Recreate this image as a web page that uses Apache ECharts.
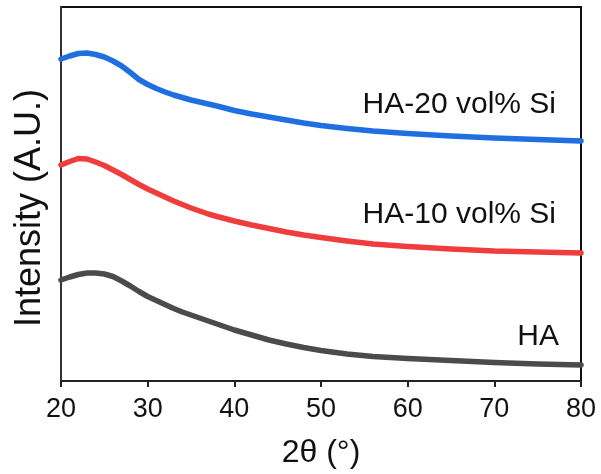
<!DOCTYPE html>
<html>
<head>
<meta charset="utf-8">
<script src="https://cdn.jsdelivr.net/npm/echarts@6/dist/echarts.min.js"></script>
<style>html,body{margin:0;padding:0;background:#fff}#c{width:601px;height:474px}</style>
</head>
<body>
<div id="c"></div>
<script>
// 2θ positions (degrees)
var twoTheta = [20,21,22,23,24,25,26,27,28,29,30,31,32,33,34,35,36,37,38,40,42,44,46,48,50,53,56,60,65,70,75,80];
// Intensities (arbitrary units, stacked offsets included)
var ha20 = [322,325,327.5,328,326.5,324,320,315,308.5,301.5,296.5,292.5,289,286,283.5,281,279,277,275,270.5,267,264,261,258,255.5,252.5,250,247.5,245,243,241.5,240];
var ha10 = [216,219.5,222.5,222,219,215.5,211,206.5,201.5,196.5,192,188,184,180,176.5,173,170,167,164.5,160,156,152.5,149,146,143.5,140,137,134.5,132,130,129,128];
var ha   = [101,104,106.5,108,108,107,104.5,100,95,89.5,84.5,80.5,76.5,72.5,69,66,63,60,57,51,46,41,37,33.5,30.5,27,24.5,22.5,20.5,18.5,17,16];
var seriesNames = ['HA-20 vol% Si','HA-10 vol% Si','HA'];
var xTicks = [20,30,40,50,60,70,80];

function pairs(ys){ return twoTheta.map(function(x,i){ return [x, ys[i]]; }); }

var chart = echarts.init(document.getElementById('c'));
var font = 'Liberation Sans, Arial, sans-serif';
chart.setOption({
  animation: false,
  backgroundColor: '#fff',
  grid: { left: 61, right: 20, top: 7, bottom: 93, show: true, borderColor: '#111', borderWidth: 2, backgroundColor: 'transparent' },
  xAxis: {
    type: 'value', min: 20, max: 80, interval: 10,
    axisLine: { show: true, lineStyle: { color: '#222', width: 2 } },
    axisTick: { show: true, inside: false, length: 6, lineStyle: { color: '#222', width: 2 } },
    axisLabel: { margin: 15, fontSize: 27, color: '#111', fontFamily: font,
      formatter: function(v){ return xTicks.indexOf(v) >= 0 ? String(v) : ''; } },
    splitLine: { show: false },
    name: '2θ (°)', nameLocation: 'middle', nameGap: 56,
    nameTextStyle: { fontSize: 32, color: '#111', fontFamily: font }
  },
  yAxis: {
    type: 'value', min: 0, max: 374,
    axisLine: { show: true, lineStyle: { color: '#333', width: 2 } },
    axisTick: { show: false }, axisLabel: { show: false }, splitLine: { show: false }
  },
  graphic: [
    { type: 'text', x: 30, y: 208, rotation: Math.PI/2,
      style: { text: 'Intensity (A.U.)', fontSize: 36, fontFamily: font, fill: '#111', align: 'center', verticalAlign: 'middle' } },
    { type: 'text', x: 556, y: 105,
      style: { text: seriesNames[0], fontSize: 30, fontFamily: font, fill: '#111', align: 'right', verticalAlign: 'middle' } },
    { type: 'text', x: 556, y: 215,
      style: { text: seriesNames[1], fontSize: 30, fontFamily: font, fill: '#111', align: 'right', verticalAlign: 'middle' } },
    { type: 'text', x: 559, y: 337,
      style: { text: seriesNames[2], fontSize: 30, fontFamily: font, fill: '#111', align: 'right', verticalAlign: 'middle' } }
  ],
  series: [
    { name: seriesNames[0], type: 'line', data: pairs(ha20), showSymbol: false, smooth: false,
      lineStyle: { color: '#1f6fe0', width: 5.5, join: 'round', cap: 'round' } },
    { name: seriesNames[1], type: 'line', data: pairs(ha10), showSymbol: false, smooth: false,
      lineStyle: { color: '#ef3d3d', width: 5.5, join: 'round', cap: 'round' } },
    { name: seriesNames[2], type: 'line', data: pairs(ha), showSymbol: false, smooth: false,
      lineStyle: { color: '#4b4b4b', width: 5.5, join: 'round', cap: 'round' } }
  ]
});
</script>
</body>
</html>
